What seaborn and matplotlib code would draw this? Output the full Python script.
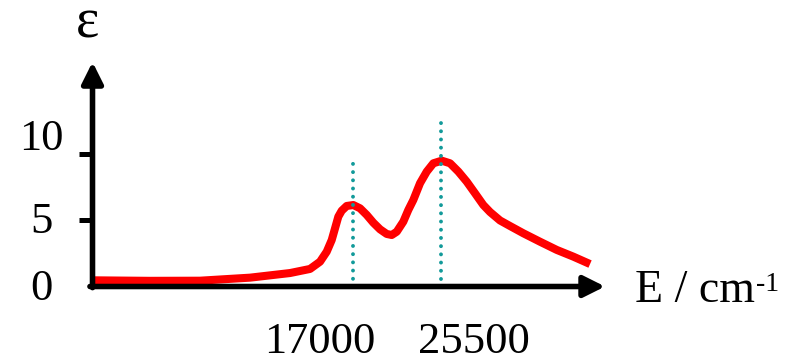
"""
Schematic absorption spectrum: molar absorptivity vs energy, two bands marked.
"""

import pandas as pd
import matplotlib.pyplot as plt
import seaborn as sns

sns.set_style("white")
plt.rcParams['font.family'] = ['Liberation Serif', 'DejaVu Serif']
plt.rcParams['text.color'] = 'black'

# Curve (position along the energy axis, 0-100, and epsilon)
position = [0.0, 5.37, 11.22, 20.98, 30.73, 38.54, 42.44, 44.39, 45.70,
            46.67, 47.32, 47.96, 48.62, 49.60, 50.89, 52.20, 53.50, 54.79,
            56.10, 57.40, 58.38, 59.36, 60.64, 61.62, 62.59, 63.90, 65.21,
            66.50, 68.14, 69.76, 71.38, 73.01, 74.63, 76.25, 77.56, 79.51,
            81.46, 84.06, 87.32, 90.58, 93.82, 97.07]
epsilon = [0.47, 0.45, 0.43, 0.44, 0.67, 1.02, 1.33, 1.88, 2.64,
           3.52, 4.41, 5.29, 5.74, 6.10, 6.17, 5.92, 5.42, 4.83,
           4.33, 3.98, 3.90, 4.15, 4.91, 5.80, 6.55, 7.82, 8.70,
           9.33, 9.53, 9.33, 8.70, 7.94, 7.06, 6.17, 5.64, 5.00,
           4.58, 4.03, 3.39, 2.77, 2.26, 1.70]

# Band maxima (dotted markers) and their labels
peak_position = [50.8, 68.0]
peak_line_bottom = [0.0, 0.6]
peak_line_top = [9.4, 12.8]
peak_labels = ['17000', '25500']
peak_label_x = [44.4, 74.4]

ytick_values = [5, 10]
ytick_labels = ['0', '5', '10']
ytick_label_y = [-1.02, 4.05, 10.34]

spectrum = pd.DataFrame({'position': position, 'epsilon': epsilon})

fig = plt.figure(figsize=(8.03, 3.58), dpi=100)
ax = fig.add_axes([0.1152, 0.1997, 0.6383, 0.6271])
ax.set_xlim(0, 100)
ax.set_ylim(0, 17.0)

sns.lineplot(data=spectrum, x='position', y='epsilon', color='#ff0000',
             linewidth=5.8, ax=ax, clip_on=False, zorder=3)
ax.lines[-1].set_solid_capstyle('butt')
ax.lines[-1].set_solid_joinstyle('round')
ax.set_xlabel('')
ax.set_ylabel('')

# dotted lines at the band maxima
for xp, y0, y1 in zip(peak_position, peak_line_bottom, peak_line_top):
    ax.plot([xp, xp], [y0, y1], color='#129a9a', linewidth=2.8,
            linestyle=(0, (0.01, 2.1)), dash_capstyle='round', zorder=4,
            clip_on=False)

# arrow axes
for sp in ax.spines.values():
    sp.set_visible(False)
arrow = dict(arrowstyle='-|>', lw=4, color='black', mutation_scale=32,
             shrinkA=0, shrinkB=0)
ax.annotate('', xy=(1.0, 0.0), xytext=(-0.005, 0.0), xycoords='axes fraction',
            arrowprops=arrow, zorder=5)
ax.annotate('', xy=(0.0, 1.0), xytext=(0.0, -0.005), xycoords='axes fraction',
            arrowprops=arrow, zorder=5)

ax.set_xticks([])
ax.set_yticks(ytick_values)
ax.set_yticklabels([])
ax.tick_params(axis='y', left=True, length=10, width=3.6, color='black',
               direction='out')

# tick labels as placed on the drawing
ytrans = ax.get_yaxis_transform()
for lab, yv in zip(ytick_labels, ytick_label_y):
    ax.text(-0.1005, yv, lab, transform=ytrans, ha='center', va='baseline',
            fontsize=32)

xtrans = ax.get_xaxis_transform()
for lab, xv in zip(peak_labels, peak_label_x):
    ax.text(xv, -0.296, lab, transform=xtrans, ha='center', va='baseline',
            fontsize=32)

# axis titles
ax.text(-0.009, 1.107, 'ε', transform=ax.transAxes, ha='center',
        va='baseline', fontsize=40)
xlab = ax.text(1.0585, -0.069, 'E / cm', transform=ax.transAxes, ha='left',
               va='baseline', fontsize=33)
ax.annotate('-1', xy=(1.0, 1.0), xycoords=xlab, xytext=(1, -2),
            textcoords='offset points', ha='left', va='top', fontsize=20)

plt.savefig('out.png', dpi=100)
plt.close()
